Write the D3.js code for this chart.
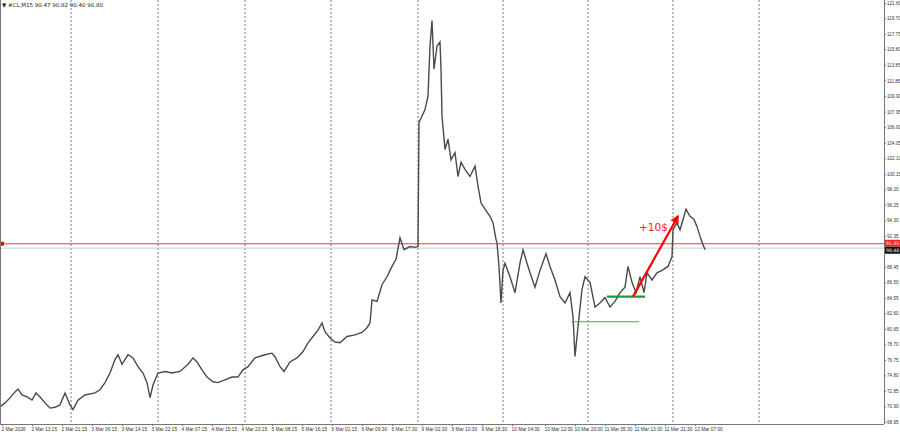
<!DOCTYPE html>
<html><head><meta charset="utf-8">
<script src="https://cdn.jsdelivr.net/npm/d3@7"></script>
<style>body{margin:0;background:#fff}svg{display:block;font-family:"DejaVu Sans",sans-serif}</style>
</head><body><svg id="c" width="900" height="436"></svg>
<script>
const barIndex=[0,5,10,15,18,22,27,32,36,40,45,50,55,60,65,70,73,78,85,95,100,105,110,115,118,122,128,133,138,143,147,150,153,158,165,172,180,188,193,197,202,207,213,218,225,232,238,243,248,255,265,272,275,280,284,290,297,303,308,313,318,322,325,330,335,340,347,355,362,367,370,372,377,382,387,392,396,400,404,410,415,418,419,425,428,430,432,434,437,440,441,442,445,448,451,455,458,461,465,470,475,478,481,485,490,493,496,497,499,501,503,505,510,515,520,523,527,530,535,540,546,550,555,560,565,570,573,575,578,582,585,590,595,600,605,610,615,620,625,628,632,636,640,644,647,652,657,662,668,672,673,677,680,684,686,690,694,697,701,705];
const closes=[70.84,71.35,71.98,72.73,73.1,72.35,72.1,71.7,72.6,72.1,71.35,70.7,70.8,71.1,72.6,71.1,70.5,71.7,72.35,72.6,73.0,73.9,75.1,76.8,77.4,76.2,77.4,77.0,75.9,75.1,73.9,72.0,73.6,75.1,75.3,75.1,75.3,76.2,77.0,76.5,75.5,74.6,74.0,73.9,74.25,74.6,74.6,75.5,75.9,77.0,77.4,77.6,77.15,75.9,75.3,76.5,77.0,77.8,78.9,79.7,80.5,81.4,80.3,79.5,79.0,78.9,79.7,79.9,80.2,80.8,81.4,84.3,84.1,86.2,87.2,88.5,89.4,92.1,90.6,91.0,90.9,91.0,106.6,108.2,109.9,116.2,119.4,113.3,116.2,116.7,113.3,107.4,103.2,104.5,101.9,102.8,99.8,101.6,100.7,99.8,101.1,98.6,96.5,95.7,94.8,94.0,91.9,91.5,88.5,83.9,88.0,88.9,87.2,85.2,88.9,90.6,88.9,87.7,85.9,88.0,90.1,88.5,86.8,84.7,83.9,85.2,82.2,77.2,80.9,85.6,87.2,86.5,83.4,83.9,84.6,83.4,84.1,85.2,85.9,88.5,86.5,85.2,87.2,85.2,87.7,86.8,87.7,88.0,88.5,89.7,93.1,94.0,93.1,94.8,95.7,94.8,94.4,93.5,91.9,90.6];
const priceTicks=[121.60,119.70,117.75,115.80,113.85,111.85,109.90,107.95,106.00,104.05,102.10,100.15,98.20,96.25,94.30,92.35,90.40,88.45,86.50,84.55,82.60,80.65,78.70,76.75,74.80,72.85,70.90,68.95];
const timeLabels=["2 Mar 2026","2 Mar 13:15","2 Mar 21:15","3 Mar 06:15","3 Mar 14:15","3 Mar 22:15","4 Mar 07:15","4 Mar 15:15","4 Mar 23:15","5 Mar 08:15","5 Mar 16:15","6 Mar 01:15","6 Mar 09:30","6 Mar 17:30","9 Mar 02:30","9 Mar 10:30","9 Mar 18:30","10 Mar 04:00","10 Mar 12:00","10 Mar 20:00","11 Mar 05:30","11 Mar 13:30","11 Mar 21:30","12 Mar 07:00"];
const timeLabelBars=[2,32,62,92,122,152,182,212,242,272,302,332,362,392,422,452,482,512,545,575,605,635,665,695];
const separatorBars=[71,158,245,331,418,503,588,673,759];
const levelLine=91.35, bidPrice=90.80;
const greenLevels=[{p:84.7,from:607,to:645,w:2.2,c:"#1e9a3e"},{p:81.55,from:572,to:639,w:1.2,c:"#2eb24a"}];
const arrow={from:[633,84.7],to:[678,94.8]};

const svg=d3.select("#c");
const L=0,R=884,T=0,B=424;
const x=d3.scaleLinear().domain([0,884]).range([L,R]);
const y=d3.scaleLinear().domain([68.95,121.60]).range([422,3]);

svg.append("rect").attr("width",900).attr("height",436).attr("fill","#fff");
separatorBars.forEach(b=>svg.append("line").attr("x1",x(b)).attr("x2",x(b)).attr("y1",T).attr("y2",B).attr("stroke","#555").attr("stroke-dasharray","2,2").attr("stroke-width",0.8));
svg.append("line").attr("x1",L).attr("x2",R).attr("y1",y(bidPrice)).attr("y2",y(bidPrice)).attr("stroke","#ccc");
svg.append("line").attr("x1",L).attr("x2",R).attr("y1",y(levelLine)).attr("y2",y(levelLine)).attr("stroke","#f33").attr("stroke-width",1.2);
svg.append("rect").attr("x",0).attr("y",y(levelLine)-2).attr("width",4).attr("height",4).attr("fill","#f00");

const line=d3.line().x((d,i)=>x(barIndex[i])).y(d=>y(d));
svg.append("path").datum(closes).attr("d",line).attr("fill","none").attr("stroke","#4a4a4a").attr("stroke-width",1.4);

greenLevels.forEach(g=>svg.append("line").attr("x1",x(g.from)).attr("x2",x(g.to)).attr("y1",y(g.p)).attr("y2",y(g.p)).attr("stroke",g.c).attr("stroke-width",g.w));
svg.append("defs").append("marker").attr("id","ah").attr("viewBox","0 0 10 10").attr("refX",8).attr("refY",5).attr("markerWidth",4).attr("markerHeight",4).attr("orient","auto").append("path").attr("d","M0,0L10,5L0,10z").attr("fill","#f00");
svg.append("line").attr("x1",x(arrow.from[0])).attr("y1",y(arrow.from[1])).attr("x2",x(arrow.to[0])).attr("y2",y(arrow.to[1])).attr("stroke","#f00").attr("stroke-width",2.2).attr("marker-end","url(#ah)");
svg.append("text").attr("x",x(639)).attr("y",y(92.9)).attr("fill","#f22").attr("font-size",10.5).text("+10$");

svg.append("line").attr("x1",R+0.5).attr("x2",R+0.5).attr("y1",0).attr("y2",B).attr("stroke","#777");
svg.append("line").attr("x1",0).attr("x2",R).attr("y1",B+0.5).attr("y2",B+0.5).attr("stroke","#777");
svg.append("line").attr("x1",0.5).attr("x2",0.5).attr("y1",0).attr("y2",B).attr("stroke","#777");

const ya=d3.axisRight(y).tickValues(priceTicks).tickFormat(d3.format(".2f")).tickSize(2);
const gy=svg.append("g").attr("transform",`translate(${R},0)`).call(ya);
gy.select(".domain").remove();
gy.selectAll("text").attr("font-size",4.6).attr("fill","#333").attr("x",3);
gy.selectAll("line").attr("stroke","#777");

const xa=d3.axisBottom(x).tickValues(timeLabelBars).tickFormat((d,i)=>timeLabels[i]).tickSize(2);
const gx=svg.append("g").attr("transform",`translate(0,${B})`).call(xa);
gx.select(".domain").remove();
gx.selectAll("text").attr("font-size",4.8).attr("fill","#333").attr("text-anchor","start").attr("x",-1).attr("y",4);
gx.selectAll("line").attr("stroke","#777");

svg.append("rect").attr("x",R+1).attr("y",y(levelLine)-4).attr("width",15).attr("height",7).attr("fill","#f22");
svg.append("text").attr("x",R+2).attr("y",y(levelLine)+1.5).attr("font-size",4.6).attr("fill","#fff").text(levelLine.toFixed(2));
svg.append("rect").attr("x",R+1).attr("y",y(levelLine)+3).attr("width",15).attr("height",7).attr("fill","#111");
svg.append("text").attr("x",R+2).attr("y",y(levelLine)+8.5).attr("font-size",4.6).attr("fill","#fff").text("90.40");

svg.append("text").attr("x",2).attr("y",7).attr("font-size",5.5).attr("fill","#222").text("▼ #CL,M15  90.47 90.82 90.40 90.80");
</script></body></html>
